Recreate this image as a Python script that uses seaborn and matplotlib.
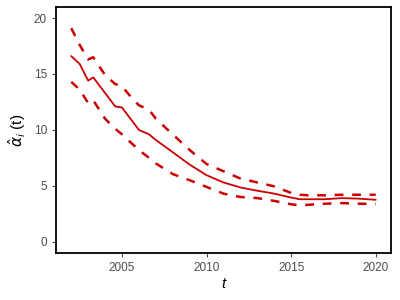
import numpy as np
import pandas as pd
import matplotlib
matplotlib.use("Agg")
import matplotlib.pyplot as plt
import seaborn as sns

# values
t = [2002, 2002.5, 2003, 2003.3, 2004, 2004.6, 2005, 2005.5, 2006, 2006.6, 2007,
     2008, 2009, 2010, 2011, 2012, 2013, 2014, 2015, 2015.5, 2016, 2017,
     2018, 2019, 2020]
alpha_hat = [16.6, 15.9, 14.4, 14.7, 13.3, 12.1, 12.0, 11.0, 10.0, 9.6, 9.1,
             8.0, 6.9, 5.95, 5.3, 4.85, 4.56, 4.3, 3.95, 3.8, 3.8, 3.8,
             3.9, 3.85, 3.75]
upper = [19.1, 17.6, 16.3, 16.5, 14.9, 14.1, 13.9, 13.0, 12.2, 11.8, 11.0,
         9.6, 8.2, 6.95, 6.3, 5.65, 5.3, 4.95, 4.36, 4.2, 4.15, 4.15,
         4.2, 4.2, 4.2]
lower = [14.3, 13.6, 12.4, 12.65, 11.0, 10.1, 9.6, 8.9, 8.2, 7.5, 7.0,
         6.05, 5.5, 4.9, 4.3, 4.0, 3.9, 3.65, 3.35, 3.25, 3.3, 3.4,
         3.45, 3.4, 3.38]
x_ticks = [2005, 2010, 2015, 2020]
y_ticks = [0, 5, 10, 15, 20]

df = pd.DataFrame({"t": t, "est": alpha_hat, "upper": upper, "lower": lower})

sns.set_theme(style="white")
plt.rcParams["font.family"] = ["Liberation Sans", "DejaVu Sans"]

fig, ax = plt.subplots(figsize=(4, 3), dpi=100)
fig.subplots_adjust(left=0.14, right=0.9775, top=0.977, bottom=0.157)

red = "#CC0000"
sns.lineplot(data=df, x="t", y="est", color=red, linewidth=1.3, ax=ax)
sns.lineplot(data=df, x="t", y="upper", color=red, linewidth=1.8,
             linestyle=(0, (3.5, 3.5)), ax=ax)
sns.lineplot(data=df, x="t", y="lower", color=red, linewidth=1.8,
             linestyle=(0, (3.5, 3.5)), ax=ax)

ax.set_xlim(2001.1, 2020.9)
ax.set_ylim(-1, 21)
ax.set_xticks(x_ticks)
ax.set_yticks(y_ticks)
ax.tick_params(axis="both", colors="#4D4D4D", labelsize=8.5, length=3,
               width=0.8, direction="out", bottom=True, left=True)
for s in ax.spines.values():
    s.set_color("black")
    s.set_linewidth(1.3)

ax.set_xlabel("t", fontsize=11, style="italic", color="black", labelpad=2)
ax.set_ylabel(r"$\hat{\alpha}_i$ (t)", fontsize=11, color="black", labelpad=4)

fig.savefig("out.png", dpi=100)
